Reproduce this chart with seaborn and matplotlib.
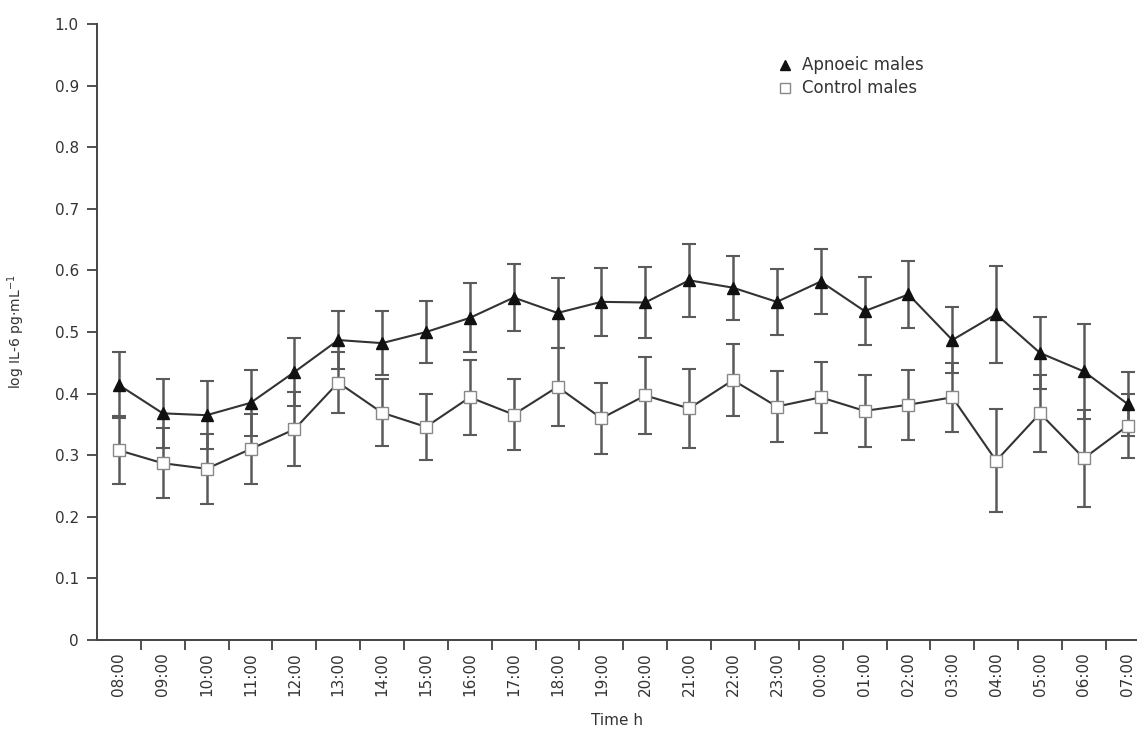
"""Diurnal IL-6 profile, apnoeic vs control males."""

import matplotlib
import numpy as np
import pandas as pd
import seaborn as sns

matplotlib.use("Agg")
import matplotlib.pyplot as plt
from matplotlib.lines import Line2D

times = ["08:00", "09:00", "10:00", "11:00", "12:00", "13:00", "14:00", "15:00",
         "16:00", "17:00", "18:00", "19:00", "20:00", "21:00", "22:00", "23:00",
         "00:00", "01:00", "02:00", "03:00", "04:00", "05:00", "06:00", "07:00"]

apnoeic_mean = [0.414, 0.368, 0.365, 0.385, 0.435, 0.487, 0.482, 0.500,
                0.523, 0.556, 0.531, 0.549, 0.548, 0.584, 0.572, 0.549,
                0.582, 0.534, 0.561, 0.487, 0.529, 0.466, 0.436, 0.383]
apnoeic_err = [0.054, 0.056, 0.055, 0.054, 0.055, 0.047, 0.052, 0.050,
               0.056, 0.055, 0.057, 0.055, 0.058, 0.059, 0.052, 0.053,
               0.053, 0.055, 0.054, 0.053, 0.079, 0.059, 0.077, 0.052]

control_mean = [0.308, 0.287, 0.278, 0.310, 0.342, 0.418, 0.369, 0.346,
                0.394, 0.366, 0.411, 0.360, 0.397, 0.376, 0.422, 0.379,
                0.394, 0.372, 0.382, 0.394, 0.291, 0.368, 0.295, 0.348]
control_err = [0.055, 0.057, 0.057, 0.057, 0.060, 0.049, 0.054, 0.053,
               0.061, 0.058, 0.063, 0.058, 0.063, 0.064, 0.058, 0.057,
               0.058, 0.058, 0.057, 0.056, 0.084, 0.062, 0.079, 0.052]

yticks = [0, 0.1, 0.2, 0.3, 0.4, 0.5, 0.6, 0.7, 0.8, 0.9, 1.0]
ytick_labels = ["0", "0.1", "0.2", "0.3", "0.4", "0.5", "0.6", "0.7", "0.8", "0.9", "1.0"]

sns.set_style("ticks")
plt.rcParams["font.family"] = ["DejaVu Sans"]

pos = np.arange(len(times))
df = pd.concat([
    pd.DataFrame({"pos": pos, "value": apnoeic_mean, "err": apnoeic_err, "group": "Apnoeic males"}),
    pd.DataFrame({"pos": pos, "value": control_mean, "err": control_err, "group": "Control males"}),
])

fig = plt.figure(figsize=(11.37, 7.30), dpi=100)
ax = fig.add_axes([0.0853, 0.1233, 0.9147, 0.8437])

styles = {
    "Apnoeic males": dict(marker="^", mfc="#111111", mec="#111111", z=4),
    "Control males": dict(marker="s", mfc="white", mec="#888888", z=3),
}

for name, sub in df.groupby("group"):
    st = styles[name]
    ax.errorbar(sub["pos"], sub["value"], yerr=sub["err"], fmt="none",
                ecolor="#5a5a5a", elinewidth=1.8, capsize=5, capthick=1.5,
                zorder=st["z"] - 1)
    sns.lineplot(data=sub, x="pos", y="value", ax=ax, color="#333333",
                 linewidth=1.5, marker=st["marker"], markersize=8.5,
                 markerfacecolor=st["mfc"], markeredgecolor=st["mec"],
                 markeredgewidth=1.0, zorder=st["z"], legend=False)

ax.set_xlim(-0.5, 23.21)
ax.set_ylim(0, 1.0)
ax.set_yticks(yticks)
ax.set_yticklabels(ytick_labels)
ax.set_xticks(pos)
ax.set_xticklabels(times, rotation=90)
ax.set_xticks(pos[:-1] + 0.5, minor=True)
ax.tick_params(axis="x", which="major", length=0, pad=9, labelsize=11, labelcolor="#333333")
ax.tick_params(axis="x", which="minor", length=7, width=1.2, color="#333333", direction="out")
ax.tick_params(axis="y", length=7, width=1.2, color="#333333", labelsize=11,
               labelcolor="#333333", pad=6)

for side in ["top", "right"]:
    ax.spines[side].set_visible(False)
for side in ["left", "bottom"]:
    ax.spines[side].set_linewidth(1.4)
    ax.spines[side].set_color("#444444")

ax.set_xlabel("Time h", fontsize=11, color="#333333", labelpad=12)
ax.set_ylabel(r"log IL-6 pg$\cdot$mL$^{-1}$", fontsize=10, color="#333333", labelpad=20)

handles = [
    Line2D([], [], linestyle="none", marker="^", markersize=7,
           markerfacecolor="#111111", markeredgecolor="#111111"),
    Line2D([], [], linestyle="none", marker="s", markersize=7,
           markerfacecolor="white", markeredgecolor="#888888"),
]
ax.legend(handles, ["Apnoeic males", "Control males"], loc="upper left",
          bbox_to_anchor=(0.631, 0.972), frameon=False, fontsize=12,
          handletextpad=0.0, labelspacing=0.3, labelcolor="#333333")

fig.savefig("out.png", dpi=100)
plt.close(fig)
